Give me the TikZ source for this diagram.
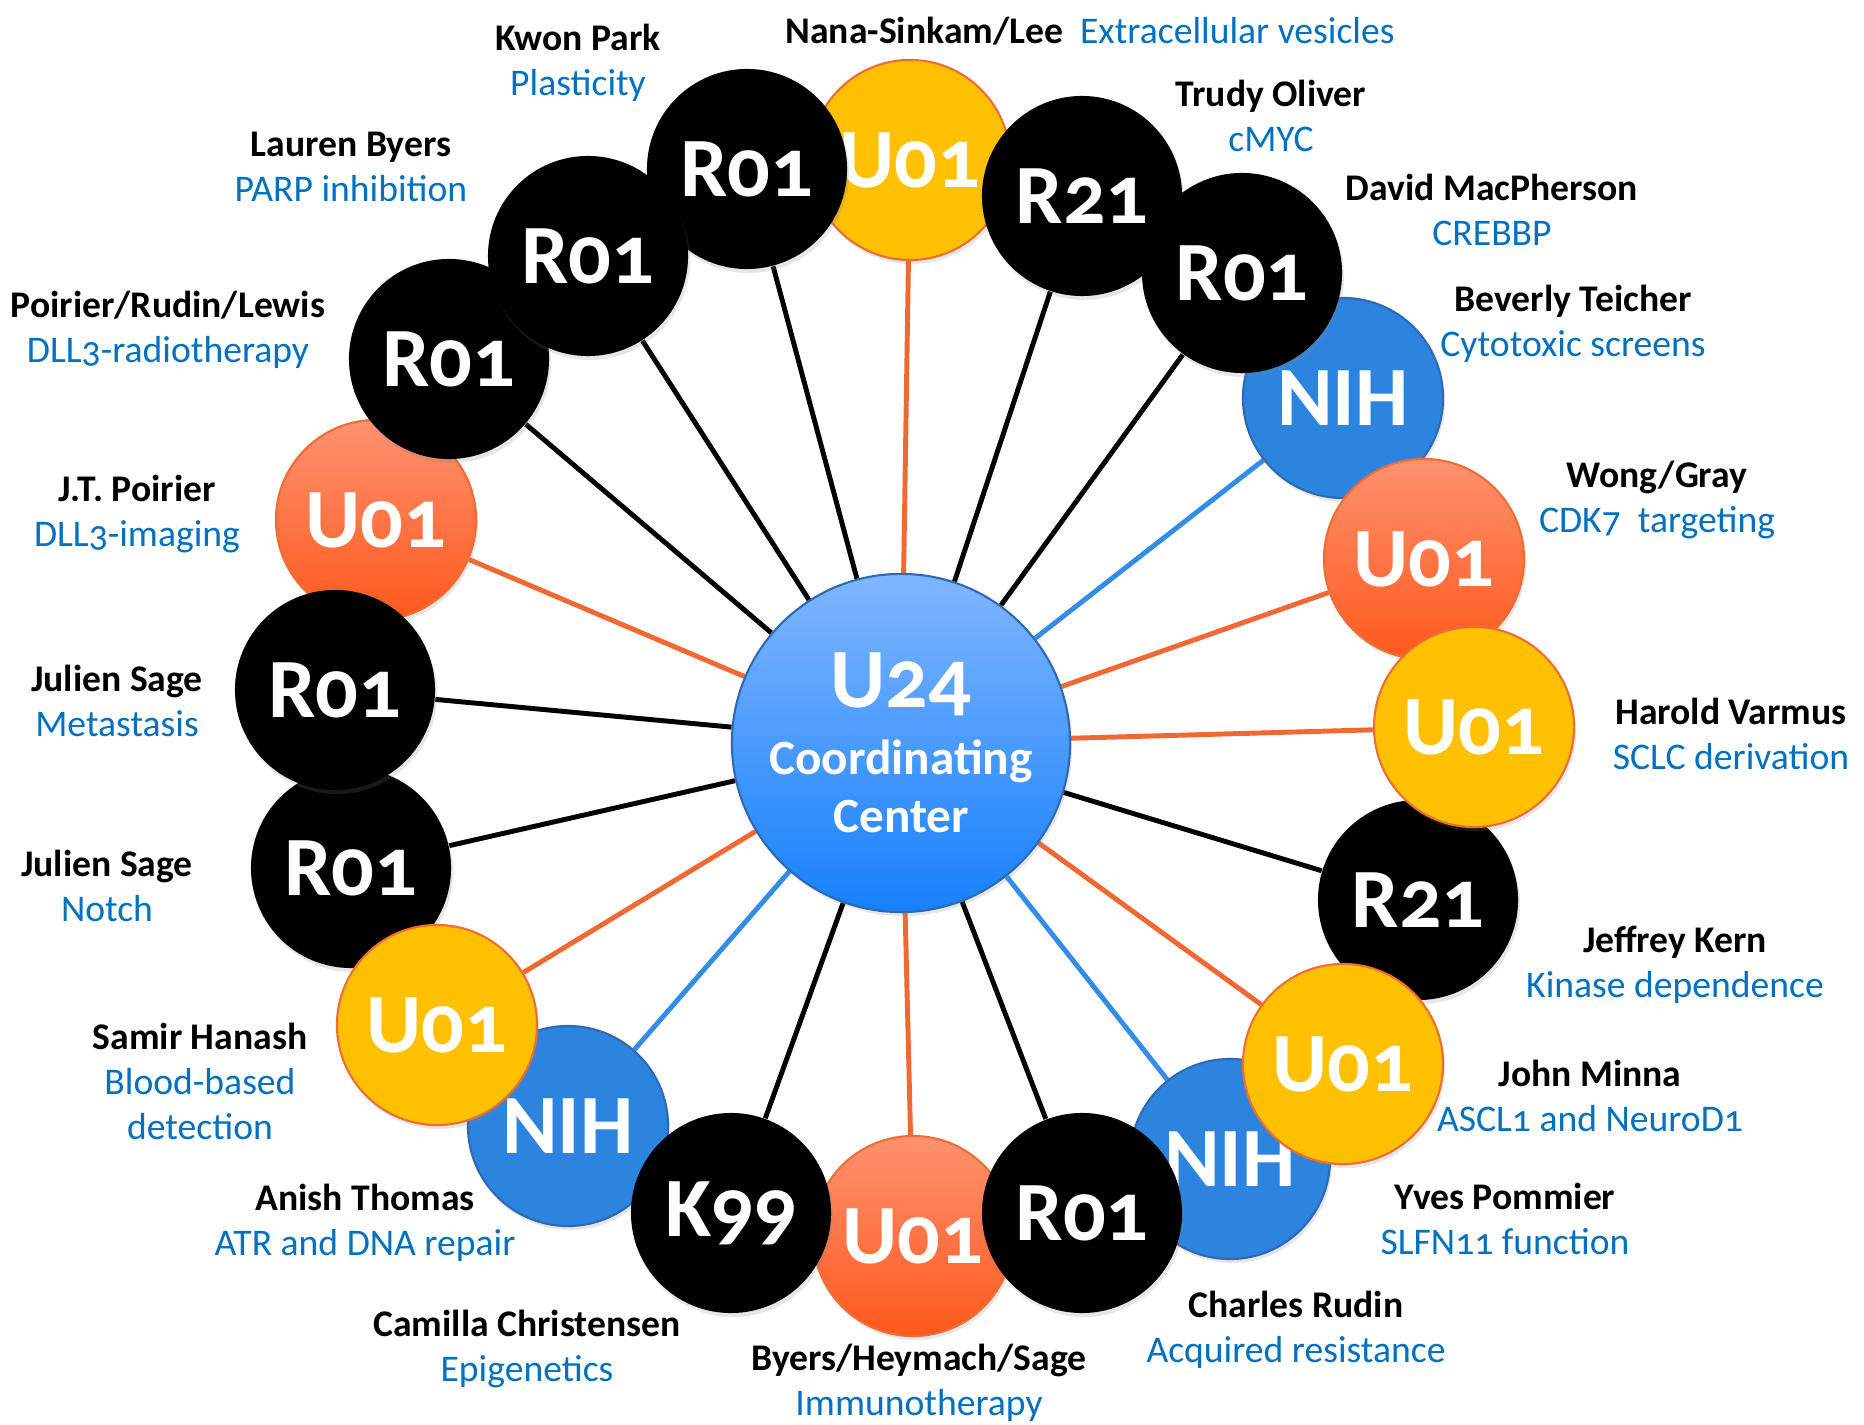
\documentclass[tikz,border=0pt]{standalone}
\usepackage{fontspec}
\setmainfont{Carlito}[Numbers=OldStyle]
\usetikzlibrary{shadows,backgrounds}

\definecolor{topicblue}{RGB}{0,112,192}
\definecolor{fundyellow}{RGB}{255,192,0}
\definecolor{fundrim}{RGB}{237,110,50}
\definecolor{orangetop}{RGB}{255,146,112}
\definecolor{orangebot}{RGB}{255,88,28}
\definecolor{nihblue}{RGB}{44,132,222}
\definecolor{nihrim}{RGB}{45,105,180}
\definecolor{hubtop}{RGB}{128,182,255}
\definecolor{hubbot}{RGB}{22,128,250}
\definecolor{spokeorange}{RGB}{240,105,50}
\definecolor{spokeblue}{RGB}{52,140,230}

\begin{document}
\begin{tikzpicture}
	[
		x = 0.01cm, y = -0.01cm,
		disc/.style = {shape=circle, minimum size=2cm, inner sep=0pt, text=white, font=\bfseries\fontsize{24}{24}\selectfont, drop shadow={shadow xshift=0.02cm, shadow yshift=-0.04cm, opacity=0.2}},
		rdisc/.style = {disc, fill=black},
		ydisc/.style = {disc, fill=fundyellow, draw=fundrim, line width=0.6pt},
		odisc/.style = {disc, top color=orangetop, bottom color=orangebot, draw=fundrim, line width=0.6pt},
		ndisc/.style = {disc, fill=nihblue, draw=nihrim, line width=0.6pt},
		hub/.style = {shape=circle, minimum size=3.38cm, inner sep=0pt, top color=hubtop, bottom color=hubbot, draw=nihrim, line width=0.6pt, text=white, align=center, font=\bfseries\fontsize{14}{16.5}\selectfont, drop shadow={shadow xshift=0.02cm, shadow yshift=-0.04cm, opacity=0.2}},
		spoke/.style = {line width=1.4pt},
		kspoke/.style = {spoke, draw=black},
		ospoke/.style = {spoke, draw=spokeorange},
		nspoke/.style = {spoke, draw=spokeblue},
		who/.style = {align=center, inner sep=0pt, font=\fontsize{10.7}{12.8}\selectfont}
	]
	
	\useasboundingbox (0, 0) rectangle (1864, 1425);
	
	\node [ydisc] (nana) at (910, 160) {U01};
	\node [ndisc] (teicher) at (1343, 398) {NIH};
	\node [ndisc] (thomas) at (568, 1126) {NIH};
	\node [ndisc] (pommier) at (1230, 1159) {NIH};
	\node [odisc] (byers) at (913, 1236) {U01};
	\node [odisc] (poirier) at (376, 520) {U01};
	\node [rdisc] (sagenotch) at (351, 868) {R01};
	\node [rdisc] (kern) at (1418, 900) {R21};
	
	\node [rdisc] (park) at (747, 169) {R01};
	\node [rdisc] (oliver) at (1082, 196) {R21};
	\node [rdisc] (macpherson) at (1242, 273) {R01};
	\node [odisc] (wong) at (1424, 559) {U01};
	\node [ydisc] (varmus) at (1474, 727) {U01};
	\node [ydisc] (minna) at (1343, 1064) {U01};
	\node [rdisc] (rudin) at (1082, 1213) {R01};
	\node [rdisc] (christensen) at (731, 1213) {K99};
	\node [ydisc] (hanash) at (437, 1025) {U01};
	\node [rdisc] (sagemeta) at (335, 690) {R01};
	\node [rdisc] (lewis) at (449, 359) {R01};
	\node [rdisc] (lbyers) at (588, 256) {R01};
	
	\node [hub] (hub) at (901, 743) {{\fontsize{24}{24}\selectfont U24}\\[2.5pt]Coordinating\\Center};
	
	\begin{scope}[on background layer]
		\draw [kspoke] (hub) -- (park);
		\draw [ospoke] (hub) -- (nana);
		\draw [kspoke] (hub) -- (oliver);
		\draw [kspoke] (hub) -- (macpherson);
		\draw [nspoke] (hub) -- (teicher);
		\draw [ospoke] (hub) -- (wong);
		\draw [ospoke] (hub) -- (varmus);
		\draw [kspoke] (hub) -- (kern);
		\draw [ospoke] (hub) -- (minna);
		\draw [nspoke] (hub) -- (pommier);
		\draw [kspoke] (hub) -- (rudin);
		\draw [ospoke] (hub) -- (byers);
		\draw [kspoke] (hub) -- (christensen);
		\draw [nspoke] (hub) -- (thomas);
		\draw [ospoke] (hub) -- (hanash);
		\draw [kspoke] (hub) -- (sagenotch);
		\draw [kspoke] (hub) -- (sagemeta);
		\draw [ospoke] (hub) -- (poirier);
		\draw [kspoke] (hub) -- (lewis);
		\draw [kspoke] (hub) -- (lbyers);
	\end{scope}
	
	\node [who] (parktext) at (578, 63) {\textbf{Kwon Park}\\\textcolor{topicblue}{Plasticity}};
	\node [who] (nanatext) at (1090, 31) {\textbf{Nana-Sinkam/Lee}\ \ \textcolor{topicblue}{Extracellular vesicles}};
	\node [who] (olivertext) at (1271, 116) {\textbf{Trudy Oliver}\\\textcolor{topicblue}{cMYC}};
	\node [who] (macphersontext) at (1492, 210) {\textbf{David MacPherson}\\\textcolor{topicblue}{CREBBP}};
	\node [who] (teichertext) at (1573, 324) {\textbf{Beverly Teicher}\\\textcolor{topicblue}{Cytotoxic screens}};
	\node [who] (wongtext) at (1657, 500) {\textbf{Wong/Gray}\\\textcolor{topicblue}{CDK7\ \ targeting}};
	\node [who] (varmustext) at (1731, 734) {\textbf{Harold Varmus}\\\textcolor{topicblue}{SCLC derivation}};
	\node [who] (kerntext) at (1675, 965) {\textbf{Jeffrey Kern}\\\textcolor{topicblue}{Kinase dependence}};
	\node [who] (minnatext) at (1590, 1096) {\textbf{John Minna}\\\textcolor{topicblue}{ASCL1 and NeuroD1}};
	\node [who] (pommiertext) at (1505, 1219) {\textbf{Yves Pommier}\\\textcolor{topicblue}{SLFN11 function}};
	\node [who] (rudintext) at (1296, 1330) {\textbf{Charles Rudin}\\\textcolor{topicblue}{Acquired resistance}};
	\node [who] (byerstext) at (919, 1383) {\textbf{Byers/Heymach/Sage}\\\textcolor{topicblue}{Immunotherapy}};
	\node [who] (christensentext) at (527, 1349) {\textbf{Camilla Christensen}\\\textcolor{topicblue}{Epigenetics}};
	\node [who] (thomastext) at (365, 1223) {\textbf{Anish Thomas}\\\textcolor{topicblue}{ATR and DNA repair}};
	\node [who] (hanashtext) at (200, 1081) {\textbf{Samir Hanash}\\\textcolor{topicblue}{Blood-based}\\\textcolor{topicblue}{detection}};
	\node [who] (sagenotchtext) at (107, 886) {\textbf{Julien Sage}\\\textcolor{topicblue}{Notch}};
	\node [who] (sagemetatext) at (117, 701) {\textbf{Julien Sage}\\\textcolor{topicblue}{Metastasis}};
	\node [who] (poiriertext) at (137, 514) {\textbf{J.T. Poirier}\\\textcolor{topicblue}{DLL3-imaging}};
	\node [who] (lewistext) at (168, 330) {\textbf{Poirier/Rudin/Lewis}\\\textcolor{topicblue}{DLL3-radiotherapy}};
	\node [who] (lbyerstext) at (351, 167) {\textbf{Lauren Byers}\\\textcolor{topicblue}{PARP inhibition}};
	
\end{tikzpicture}
\end{document}
